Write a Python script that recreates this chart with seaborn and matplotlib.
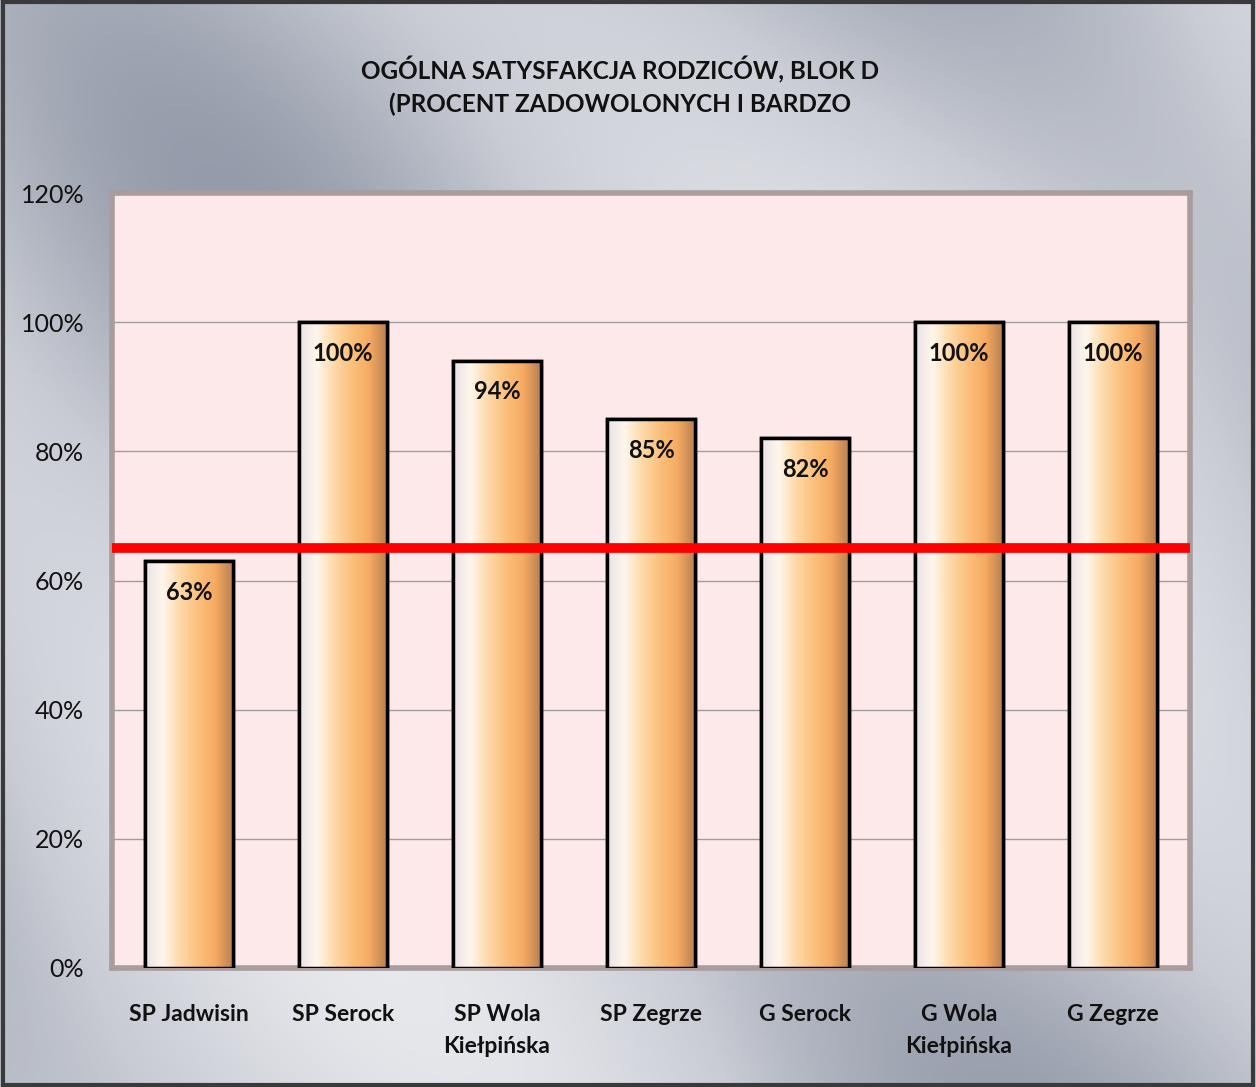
import numpy as np
import matplotlib.pyplot as plt
import seaborn as sns
from matplotlib.colors import LinearSegmentedColormap
from matplotlib.patches import Rectangle

# data
schools = ["SP Jadwisin", "SP Serock", "SP Wola\nKiełpińska", "SP Zegrze",
           "G Serock", "G Wola\nKiełpińska", "G Zegrze"]
satisfaction = [63, 100, 94, 85, 82, 100, 100]
threshold = 65
yticks = [0, 20, 40, 60, 80, 100, 120]
title = "OGÓLNA SATYSFAKCJA RODZICÓW, BLOK D\n(PROCENT ZADOWOLONYCH I BARDZO"

sns.set_style("white")
plt.rcParams['font.family'] = ['Lato', 'DejaVu Sans']

fig = plt.figure(figsize=(12.56, 10.87), dpi=100)

# silver brushed background
bg = fig.add_axes([0, 0, 1, 1], zorder=-10)
yy, xx = np.mgrid[0:1:300j, 0:1:350j]
shade = 0.5 + 0.5 * np.sin((xx * 1.1 - yy * 0.8) * 7.5 + 1.2)
shade = 0.6 * shade + 0.4 * (0.5 + 0.5 * np.sin((xx + yy) * 4.0))
silver = LinearSegmentedColormap.from_list("silver", ["#E6E8EC", "#C9CCD4", "#959BAA"])
bg.imshow(shade, cmap=silver, aspect="auto", extent=[0, 1, 0, 1], origin="upper")
bg.add_patch(Rectangle((0.002, 0.002), 0.996, 0.996, fill=False, edgecolor="#3A3A3A",
                       lw=3, transform=bg.transAxes))
bg.set_axis_off()

ax = fig.add_axes([0.0892, 0.1095, 0.8583, 0.7129])
ax.set_facecolor("#FDE9E9")

sns.barplot(x=schools, y=satisfaction, color="#F9C084", edgecolor="black",
            linewidth=2.5, width=0.57, ax=ax, zorder=3)

# gradient fill for each bar, clipped to the bar itself
bar_cmap = LinearSegmentedColormap.from_list(
    "bar", ["#E9E2E6", "#FFF6EC", "#FDD9A8", "#FBC07C", "#F6AA62", "#B98052"])
grad = np.linspace(0, 1, 256).reshape(1, -1)
for p in ax.patches:
    x0, y0 = p.get_x(), p.get_y()
    w, h = p.get_width(), p.get_height()
    im = ax.imshow(grad, cmap=bar_cmap, aspect="auto",
                   extent=[x0, x0 + w, y0, y0 + h], zorder=3.5)
    im.set_clip_path(p)
    ax.add_patch(Rectangle((x0, y0), w, h, fill=False, edgecolor="black",
                           lw=2.5, zorder=4))

for i, v in enumerate(satisfaction):
    ax.text(i, v - 4.8, f"{v}%", ha="center", va="center", fontsize=17,
            fontweight="bold", color="#111111", zorder=6)

ax.axhline(threshold, color="#FF0000", lw=7, zorder=5)

ax.set_xlim(-0.5, 6.5)
ax.set_ylim(0, 120)
ax.set_yticks(yticks)
ax.set_yticklabels([f"{t}%" for t in yticks], fontsize=18, color="#111111")
ax.tick_params(axis="y", length=0, pad=20)
ax.tick_params(axis="x", length=0, pad=26)
for lab in ax.get_xticklabels():
    lab.set_fontsize(16.5)
    lab.set_fontweight("bold")
    lab.set_color("#111111")
    lab.set_linespacing(1.65)
ax.yaxis.grid(True, color="#9E9E9E", lw=1)
ax.set_axisbelow(True)
ax.set_xlabel("")
ax.set_ylabel("")
for s in ax.spines.values():
    s.set_color("#A89C9C")
    s.set_linewidth(4)

fig.text(0.494, 0.921, title, ha="center", va="center", fontsize=17.5,
         fontweight="bold", color="#111111", linespacing=1.45)

fig.savefig("out.png", dpi=100)
